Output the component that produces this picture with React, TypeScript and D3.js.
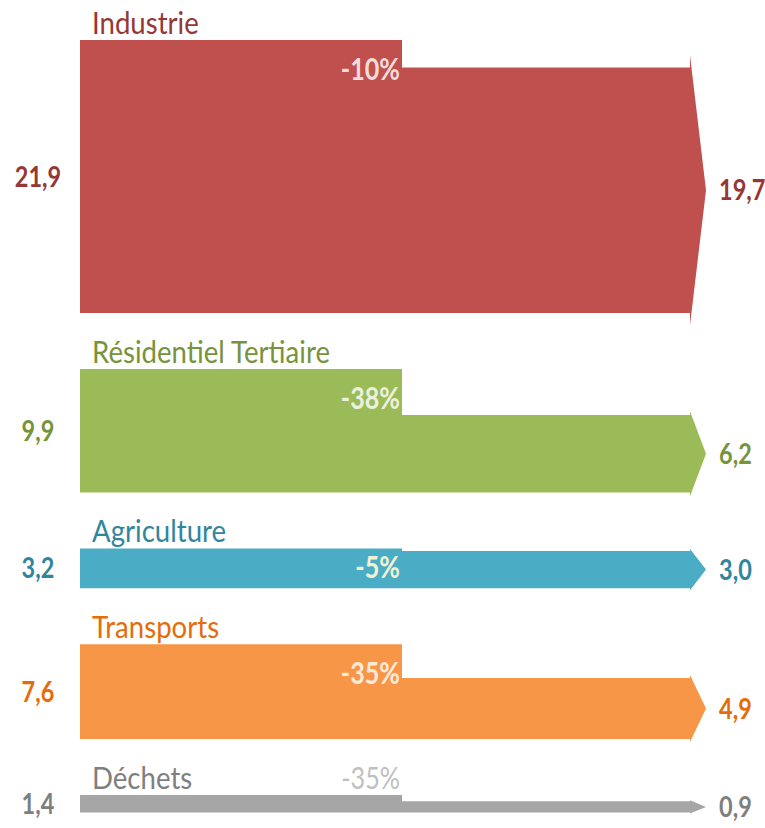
import { useEffect, useRef } from 'react';
import * as d3 from 'd3';

const categories = ['Industrie', 'Résidentiel Tertiaire', 'Agriculture', 'Transports', 'Déchets'];
const startValues = [21.9, 9.9, 3.2, 7.6, 1.4];
const endValues = [19.7, 6.2, 3.0, 4.9, 0.9];
const changeLabels = ['-10%', '-38%', '-5%', '-35%', '-35%'];

const fillColors = ['#C0504D', '#9BBB59', '#4BACC6', '#F79646', '#A6A6A6'];
const textColors = ['#953735', '#77933C', '#31859C', '#E46C0A', '#7F7F7F'];
const changeColors = ['#F2DCDB', '#EBF1DE', '#F2F2D0', '#FDE9D9', '#BFBFBF'];

const fmt = (v: number) => v.toFixed(1).replace('.', ',');
const FONT = 'Lato, "Open Sans", sans-serif';

type Sel = d3.Selection<SVGGElement, unknown, null, undefined>;

// the original uses a narrow face, so Lato gets squeezed horizontally
const addText = (
  g: Sel, x: number, y: number, str: string,
  opts: { size: number; weight?: number; fill: string; anchor?: string; dy?: string; squeeze?: number }
) => {
  g.append('g')
    .attr('transform', `translate(${x},${y}) scale(${opts.squeeze || 0.84},1)`)
    .append('text')
    .attr('text-anchor', opts.anchor || 'start')
    .attr('dy', opts.dy || null)
    .attr('font-family', FONT)
    .attr('font-size', opts.size)
    .attr('font-weight', opts.weight || 400)
    .attr('fill', opts.fill)
    .text(str);
};

const App = () => {
  const svgRef = useRef<SVGSVGElement>(null);

  useEffect(() => {
    const width = 765;
    const height = 828;
    const x0 = 80;      // start of bars
    const xMid = 402;   // where the value changes
    const xEnd = 690;   // start of arrow head
    const tip = 16;     // arrow head length
    const gap = 56;
    const top0 = 40;

    const svg = d3.select(svgRef.current);
    svg.selectAll('*').remove();
    svg.attr('width', width).attr('height', height);

    const h = d3.scaleLinear().domain([0, 21.9]).range([0, 273]);

    let cursor = top0;
    const bands = categories.map((name, i) => {
      const top = cursor;
      const bottom = top + h(startValues[i]);
      cursor = bottom + gap;
      return { name, i, top, bottom, rTop: bottom - h(endValues[i]) };
    });

    const g = svg.append('g') as Sel;

    bands.forEach(({ name, i, top, bottom, rTop }) => {
      const hs = bottom - top;
      const he = bottom - rTop;
      const wing = Math.max(1, he * 0.05);
      const mid = (rTop + bottom) / 2;
      const p = d3.path();
      p.moveTo(x0, top);
      p.lineTo(xMid, top);
      p.lineTo(xMid, rTop);
      p.lineTo(xEnd, rTop);
      p.lineTo(xEnd, rTop - wing);
      p.lineTo(xEnd + tip, mid);
      p.lineTo(xEnd, bottom + wing);
      p.lineTo(xEnd, bottom);
      p.lineTo(x0, bottom);
      p.closePath();

      g.append('path').attr('d', p.toString()).attr('fill', fillColors[i]);

      // category label
      addText(g, x0 + 12, top - 6, name, { size: 30, weight: 400, fill: textColors[i], squeeze: 0.92 });

      // start / end values
      addText(g, 38, (top + bottom) / 2, fmt(startValues[i]), {
        size: 28, weight: 700, fill: textColors[i], anchor: 'middle', dy: '0.36em',
      });
      addText(g, 719, mid, fmt(endValues[i]), {
        size: 28, weight: 700, fill: textColors[i], dy: '0.36em',
      });

      // change label
      let ly = top + 40;
      if (hs < 20) ly = top - 6;
      else if (hs < 60) ly = (top + bottom) / 2 + 10;
      addText(g, xMid - 2, ly, changeLabels[i], {
        size: 30, weight: hs < 20 ? 400 : 700, fill: changeColors[i], anchor: 'end',
      });
    });
  }, []);

  return <svg ref={svgRef} style={{ display: 'block', position: 'absolute', left: 0, top: 0 }} />;
};

export default App;
